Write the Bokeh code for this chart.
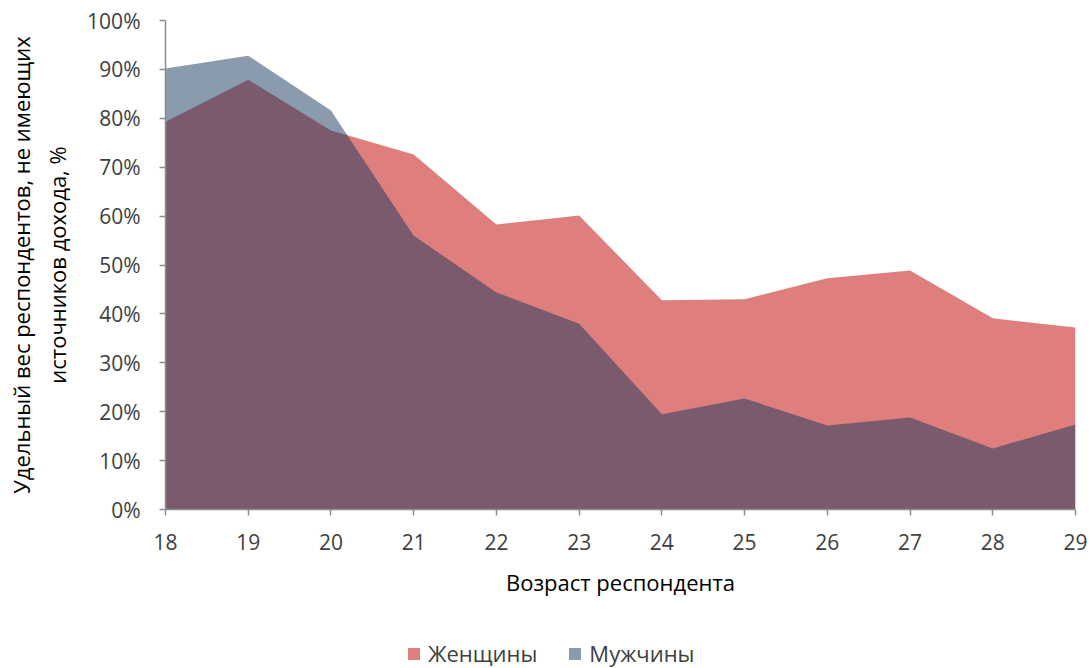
from bokeh.plotting import figure
from bokeh.layouts import column
from bokeh.models import Range1d, FixedTicker, PrintfTickFormatter, Legend, LegendItem
from bokeh.embed import file_html
from bokeh.resources import INLINE

ages = [18, 19, 20, 21, 22, 23, 24, 25, 26, 27, 28, 29]
women = [79.3, 87.9, 77.5, 72.6, 58.3, 60.1, 42.8, 43.0, 47.3, 48.9, 39.1, 37.2]
men = [90.2, 92.8, 81.6, 56.0, 44.4, 38.0, 19.5, 22.7, 17.2, 18.8, 12.5, 17.4]
y_ticks = [0, 10, 20, 30, 40, 50, 60, 70, 80, 90, 100]
series_names = ["Женщины", "Мужчины"]
x_title = "Возраст респондента"
y_title = "Удельный вес респондентов, не имеющих\nисточников дохода, %"

FONT = "Open Sans"
WOMEN_COLOR = "#de7f7e"
MEN_COLOR = "#15375d"
MEN_ALPHA = 0.5

# ---- main chart ----
p = figure(output_backend="svg", toolbar_location=None,
           x_range=Range1d(18, 29), y_range=Range1d(0, 100),
           min_border_left=165, min_border_right=15, min_border_top=20, min_border_bottom=100)
p.frame_width = 910
p.frame_height = 489
p.outline_line_color = None
p.grid.grid_line_color = None

p.varea(x=ages, y1=0, y2=women, fill_color=WOMEN_COLOR, fill_alpha=1.0)
p.varea(x=ages, y1=0, y2=men, fill_color=MEN_COLOR, fill_alpha=MEN_ALPHA)

for ax in (p.xaxis[0], p.yaxis[0]):
    ax.axis_line_color = "#8c8c8c"
    ax.axis_line_width = 1.5
    ax.major_tick_line_color = "#8c8c8c"
    ax.major_tick_line_width = 1.5
    ax.major_tick_in = 0
    ax.major_tick_out = 6
    ax.minor_tick_line_color = None
    ax.major_label_text_font = FONT
    ax.major_label_text_font_size = "21px"
    ax.major_label_text_color = "#404040"
    ax.axis_label_text_font = FONT
    ax.axis_label_text_font_size = "22px"
    ax.axis_label_text_font_style = "normal"
    ax.axis_label_text_color = "#000000"

p.xaxis.ticker = FixedTicker(ticks=ages)
p.yaxis.ticker = FixedTicker(ticks=y_ticks)
p.yaxis.formatter = PrintfTickFormatter(format="%d%%")
p.xaxis.major_label_standoff = 18
p.yaxis.major_label_standoff = 19
p.xaxis.axis_label = x_title
p.yaxis.axis_label = y_title
p.xaxis.axis_label_standoff = 14
p.yaxis.axis_label_standoff = 12

# ---- legend strip below the chart (same series, out of view, only for the legend) ----
lg = figure(width=1090, height=59, output_backend="svg", toolbar_location=None,
            x_range=Range1d(18, 29), y_range=Range1d(1000, 1001),
            x_axis_type=None, y_axis_type=None,
            min_border_left=0, min_border_right=0, min_border_top=0, min_border_bottom=0)
lg.outline_line_color = None
lg.grid.grid_line_color = None
lw = lg.varea(x=ages, y1=0, y2=women, fill_color=WOMEN_COLOR, fill_alpha=1.0)
lm = lg.varea(x=ages, y1=0, y2=men, fill_color=MEN_COLOR, fill_alpha=MEN_ALPHA)

legend = Legend(items=[LegendItem(label=series_names[0], renderers=[lw]),
                       LegendItem(label=series_names[1], renderers=[lm])],
                orientation="horizontal", location=(241, 0),
                label_text_font=FONT, label_text_font_size="22px", label_text_color="#404040",
                glyph_width=15, glyph_height=15, label_standoff=7, spacing=30,
                border_line_color=None, background_fill_alpha=0, margin=0, padding=0)
lg.add_layout(legend, "center")

layout = column(p, lg, spacing=0)
open("out.html", "w").write(file_html(layout, INLINE))
